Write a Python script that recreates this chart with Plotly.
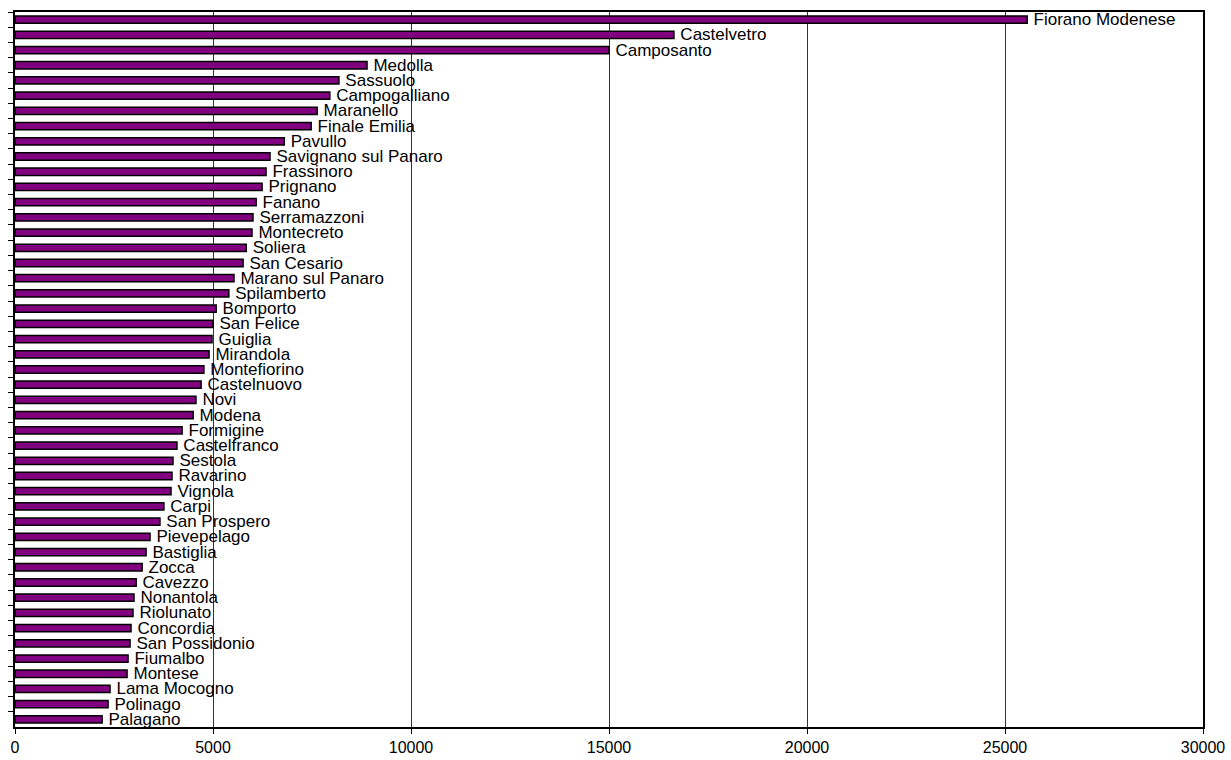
import plotly.graph_objects as go

comuni = [
    "Fiorano Modenese", "Castelvetro", "Camposanto", "Medolla", "Sassuolo",
    "Campogalliano", "Maranello", "Finale Emilia", "Pavullo", "Savignano sul Panaro",
    "Frassinoro", "Prignano", "Fanano", "Serramazzoni", "Montecreto", "Soliera",
    "San Cesario", "Marano sul Panaro", "Spilamberto", "Bomporto", "San Felice",
    "Guiglia", "Mirandola", "Montefiorino", "Castelnuovo", "Novi", "Modena",
    "Formigine", "Castelfranco", "Sestola", "Ravarino", "Vignola", "Carpi",
    "San Prospero", "Pievepelago", "Bastiglia", "Zocca", "Cavezzo", "Nonantola",
    "Riolunato", "Concordia", "San Possidonio", "Fiumalbo", "Montese",
    "Lama Mocogno", "Polinago", "Palagano",
]
valori = [
    25560, 16640, 15000, 8890, 8180,
    7950, 7630, 7480, 6800, 6440,
    6340, 6240, 6090, 6010, 5985, 5840,
    5760, 5530, 5400, 5080, 5000,
    4975, 4900, 4770, 4700, 4570, 4500,
    4220, 4090, 3990, 3965, 3940, 3760,
    3660, 3410, 3310, 3210, 3060, 3005,
    2980, 2930, 2905, 2855, 2830,
    2400, 2350, 2200,
]
x_ticks = [0, 5000, 10000, 15000, 20000, 25000, 30000]

fig = go.Figure(go.Bar(
    x=valori, y=comuni, orientation="h",
    marker=dict(color="#800080", line=dict(color="black", width=1.5)),
    text=comuni, texttemplate="\u2009%{text}",
    textposition="outside", constraintext="none",
    textfont=dict(family="Liberation Sans, Arial, sans-serif", size=17, color="black"),
    cliponaxis=False, hoverinfo="x+y",
))

fig.update_layout(
    width=1231, height=760,
    margin=dict(l=15, r=28, t=12, b=33, autoexpand=False),
    paper_bgcolor="white", plot_bgcolor="white",
    bargap=0.52,
    showlegend=False,
    font=dict(family="Liberation Sans, Arial, sans-serif", size=16, color="black"),
)
fig.update_xaxes(
    range=[0, 30000], tickvals=x_ticks, ticktext=[str(v) for v in x_ticks],
    showgrid=True, gridcolor="#333333", gridwidth=1,
    showline=True, linecolor="black", linewidth=1.5, mirror=True,
    ticks="outside", ticklen=5, tickcolor="black",
    zeroline=False, tickfont=dict(size=16), automargin=False,
)
fig.update_yaxes(
    categoryorder="array", categoryarray=comuni, autorange="reversed",
    showticklabels=False, showgrid=False,
    showline=True, linecolor="black", linewidth=1.5, mirror=True,
    ticks="outside", ticklen=5, tickcolor="black", tickson="boundaries",
    automargin=False,
)

fig.write_html(
    "out.html",
    config={"displayModeBar": False},
    post_script="document.body.style.margin='0';document.body.style.overflow='hidden';",
)
